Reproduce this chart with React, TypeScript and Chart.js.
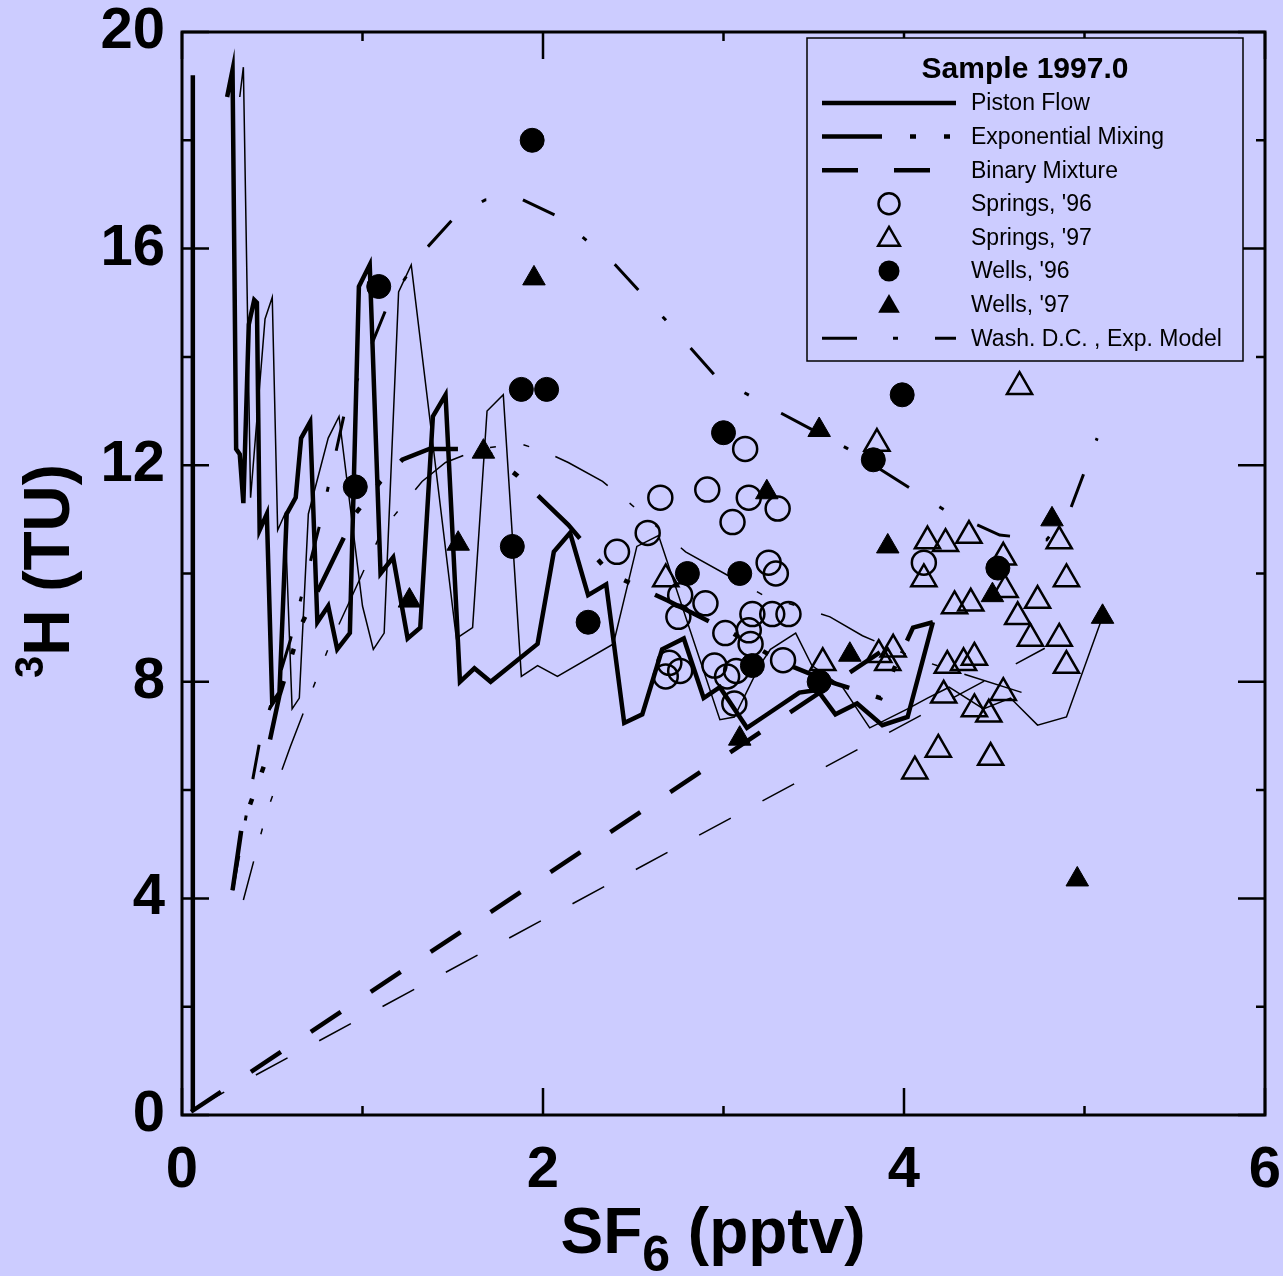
import React, { useEffect, useRef } from 'react';
import { Chart, registerables } from 'chart.js';

Chart.register(...registerables);

const FONT = '"Liberation Sans", Arial, Helvetica, sans-serif';
const BG = '#ccccff';

// ---- axes ----
const xMajorTicks = [0, 2, 4, 6];
const xMinorTicks = [1, 3, 5];
const yMajorTicks = [0, 4, 8, 12, 16, 20];
const yMinorTicks = [2, 6, 10, 14, 18];

// ---- model curves (SF6 pptv, 3H TU) ----
const pistonStem: [number, number][] = [[0.06, 0.1], [0.06, 19.2]];

const pistonFlow97: [number, number][] = [
  [0.25, 18.8], [0.28, 19.3], [0.30, 12.3], [0.32, 12.2], [0.34, 11.3], [0.37, 14.6], [0.40, 15.05],
  [0.415, 15.0], [0.43, 10.8], [0.47, 11.1], [0.50, 7.6], [0.54, 7.8], [0.58, 11.1], [0.63, 11.4],
  [0.66, 12.5], [0.71, 12.8], [0.75, 9.1], [0.81, 9.4], [0.86, 8.6], [0.93, 8.9], [0.98, 15.3],
  [1.04, 15.7], [1.10, 10.0], [1.17, 10.3], [1.25, 8.8], [1.32, 9.0], [1.39, 12.9], [1.46, 13.3],
  [1.54, 8.0], [1.62, 8.25], [1.71, 8.0], [1.97, 8.7], [2.06, 10.4], [2.15, 10.75], [2.25, 9.6],
  [2.35, 9.8], [2.45, 7.24], [2.55, 7.4], [2.66, 8.6], [2.78, 8.8], [2.89, 7.7], [2.98, 7.9],
  [3.13, 7.15], [3.22, 7.35], [3.42, 7.8], [3.52, 7.85], [3.62, 7.4], [3.74, 7.6], [3.88, 7.2],
  [4.02, 7.35], [4.16, 9.1],
];

const pistonFlowThin: [number, number][] = [
  [0.32, 18.8], [0.34, 19.35], [0.38, 11.4], [0.46, 14.7], [0.50, 15.1], [0.53, 10.8], [0.57, 11.1],
  [0.61, 7.5], [0.65, 7.7], [0.70, 11.1], [0.81, 12.5], [0.87, 12.9], [1.00, 9.4], [1.06, 8.6],
  [1.12, 8.9], [1.20, 15.2], [1.27, 15.7], [1.52, 8.8], [1.61, 9.0], [1.69, 13.0], [1.78, 13.3],
  [1.88, 8.1], [1.97, 8.3], [2.08, 8.1], [2.39, 8.7], [2.52, 10.5], [2.64, 10.7], [2.98, 7.3],
  [3.06, 7.35], [3.20, 8.3], [3.26, 8.6], [3.40, 8.9], [3.49, 8.3], [3.66, 7.9], [3.81, 7.15],
  [4.02, 7.5], [4.13, 7.7], [4.25, 7.9], [4.44, 7.5], [4.59, 7.7], [4.74, 7.2], [4.90, 7.35],
  [5.10, 9.2],
];

const expMixing97: [number, number][] = [
  [0.28, 4.15], [0.33, 5.3], [0.46, 6.5], [0.54, 7.75], [0.66, 9.05], [0.80, 10.0], [0.96, 11.1],
  [1.10, 11.7], [1.22, 12.1], [1.37, 12.3], [1.54, 12.3], [1.71, 12.2], [1.86, 11.8], [2.14, 10.9],
  [2.37, 10.0], [2.69, 9.5], [3.05, 8.9], [3.33, 8.35], [3.59, 8.0], [3.87, 7.7], [4.05, 9.0],
  [4.16, 9.1],
];

const expMixingThin: [number, number][] = [
  [0.34, 3.97], [0.47, 5.6], [0.60, 6.8], [0.82, 8.7], [1.11, 10.8], [1.33, 11.7], [1.46, 12.05],
  [1.65, 12.3], [1.87, 12.4], [2.01, 12.25], [2.14, 12.05], [2.33, 11.7], [2.48, 11.3], [2.79, 10.4],
  [3.22, 9.6], [3.59, 9.2], [3.77, 8.85], [4.09, 8.4], [4.75, 7.7],
];

const binaryMixture97: [number, number][] = [[0.05, 0.06], [3.87, 8.55]];
const binaryMixtureThin: [number, number][] = [[0.0, 0.0], [4.78, 8.62]];

const washDCExp: [number, number][] = [
  [0.28, 4.15], [0.43, 6.89], [0.60, 8.77], [0.77, 10.99], [0.90, 12.96], [0.97, 13.57], [1.14, 14.96],
  [1.32, 15.88], [1.51, 16.58], [1.68, 16.90], [1.87, 16.93], [2.09, 16.58], [2.40, 15.70],
  [2.68, 14.68], [2.96, 13.63], [3.32, 12.96], [3.68, 12.32], [4.23, 11.16], [4.53, 10.71],
  [4.79, 10.62], [4.92, 11.17], [5.07, 12.50],
];

// ---- samples ----
const springs96: [number, number][] = [
  [3.12, 12.3], [2.65, 11.4], [2.91, 11.55], [3.14, 11.4], [3.30, 11.2], [3.05, 10.95], [2.41, 10.4],
  [2.58, 10.75], [3.25, 10.2], [3.29, 10.0], [2.76, 9.6], [2.90, 9.45], [2.75, 9.2], [3.01, 8.9],
  [3.16, 9.25], [3.27, 9.25], [3.36, 9.25], [3.14, 8.95], [3.15, 8.7], [3.33, 8.4], [2.68, 8.1],
  [2.70, 8.35], [2.76, 8.2], [2.95, 8.3], [3.02, 8.1], [3.07, 8.2], [3.06, 7.6], [4.11, 10.2],
];

const springs97: [number, number][] = [
  [4.64, 13.45], [3.85, 12.4], [4.13, 10.6], [4.23, 10.55], [4.36, 10.7], [4.55, 10.3], [4.86, 10.6],
  [4.11, 9.9], [4.56, 9.7], [4.90, 9.9], [4.28, 9.4], [4.37, 9.45], [4.74, 9.5], [4.63, 9.2],
  [4.70, 8.8], [4.86, 8.8], [4.90, 8.3], [3.55, 8.35], [3.86, 8.5], [3.94, 8.6], [3.91, 8.35],
  [4.24, 8.3], [4.33, 8.35], [4.39, 8.45], [4.22, 7.75], [4.55, 7.8], [4.39, 7.5], [4.47, 7.4],
  [4.19, 6.75], [4.48, 6.6], [4.06, 6.35], [2.68, 9.9],
];

const wells96: [number, number][] = [
  [1.94, 18.0], [1.09, 15.3], [1.88, 13.4], [2.02, 13.4], [3.99, 13.3], [3.00, 12.6], [3.83, 12.1],
  [0.96, 11.6], [1.83, 10.5], [2.80, 10.0], [3.09, 10.0], [4.52, 10.1], [2.25, 9.1], [3.16, 8.3],
  [3.53, 8.0],
];

const wells97: [number, number][] = [
  [1.95, 15.45], [3.53, 12.65], [1.67, 12.25], [3.24, 11.5], [4.82, 11.0], [3.91, 10.5], [1.53, 10.55],
  [1.26, 9.5], [4.49, 9.6], [5.10, 9.2], [3.70, 8.5], [3.09, 6.95], [4.96, 4.35],
];

const legendTitle = 'Sample 1997.0';
const legendLabels = [
  'Piston Flow', 'Exponential Mixing', 'Binary Mixture', "Springs, '96", "Springs, '97",
  "Wells, '96", "Wells, '97", 'Wash. D.C. , Exp. Model',
];

const EXP_DASH = [60, 28, 6, 28, 6, 28];
const BIN_DASH = [36, 36];
const WASH_DASH = [35, 36, 5, 37];

const toXY = (pts: [number, number][]) => pts.map(([x, y]) => ({ x, y }));

function lineDs(label: string, pts: [number, number][], width: number, dash: number[], dashOffset = 0) {
  return {
    label,
    data: toXY(pts),
    showLine: true,
    borderColor: '#000',
    borderWidth: width,
    borderDash: dash,
    borderDashOffset: dashOffset,
    borderCapStyle: 'butt',
    borderJoinStyle: 'miter',
    pointRadius: 0,
    pointHoverRadius: 0,
    fill: false,
    tension: 0,
    order: 10,
  };
}

function markDs(label: string, pts: [number, number][], style: string, r: number, filled: boolean) {
  return {
    label,
    data: toXY(pts),
    showLine: false,
    pointStyle: style,
    pointRadius: r,
    pointHoverRadius: r,
    pointBorderWidth: filled ? 1 : 2.5,
    pointBorderColor: '#000',
    pointBackgroundColor: filled ? '#000' : 'rgba(0,0,0,0)',
    order: 1,
  };
}

const zeroPad = (s: any) => {
  s.paddingTop = 0;
  s.paddingBottom = 0;
  s.paddingLeft = 0;
  s.paddingRight = 0;
};

const decorPlugin = {
  id: 'decor',
  beforeDraw(chart: any) {
    const { ctx, width, height } = chart;
    ctx.save();
    ctx.fillStyle = BG;
    ctx.fillRect(0, 0, width, height);
    ctx.restore();
  },
  afterDraw(chart: any) {
    const { ctx, chartArea: a, scales } = chart;
    const xs = scales.x;
    const ys = scales.y;
    ctx.save();
    ctx.strokeStyle = '#000';
    ctx.lineCap = 'butt';
    // ticks
    ctx.lineWidth = 2.5;
    const MAJ = 27;
    const MIN = 9;
    ctx.beginPath();
    xMajorTicks.forEach((v) => {
      const p = xs.getPixelForValue(v);
      ctx.moveTo(p, a.bottom); ctx.lineTo(p, a.bottom - MAJ);
      ctx.moveTo(p, a.top); ctx.lineTo(p, a.top + MAJ);
    });
    xMinorTicks.forEach((v) => {
      const p = xs.getPixelForValue(v);
      ctx.moveTo(p, a.bottom); ctx.lineTo(p, a.bottom - MIN);
      ctx.moveTo(p, a.top); ctx.lineTo(p, a.top + MIN);
    });
    yMajorTicks.forEach((v) => {
      const p = ys.getPixelForValue(v);
      ctx.moveTo(a.left, p); ctx.lineTo(a.left + MAJ, p);
      ctx.moveTo(a.right, p); ctx.lineTo(a.right - MAJ, p);
    });
    yMinorTicks.forEach((v) => {
      const p = ys.getPixelForValue(v);
      ctx.moveTo(a.left, p); ctx.lineTo(a.left + MIN, p);
      ctx.moveTo(a.right, p); ctx.lineTo(a.right - MIN, p);
    });
    ctx.stroke();
    // frame
    ctx.lineWidth = 3;
    ctx.strokeRect(a.left, a.top, a.right - a.left, a.bottom - a.top);

    // legend
    const bx = a.right - 458;
    const by = a.top + 6;
    const bw = 436;
    const bh = 323;
    ctx.fillStyle = BG;
    ctx.fillRect(bx, by, bw, bh);
    ctx.lineWidth = 1.5;
    ctx.strokeRect(bx, by, bw, bh);
    ctx.fillStyle = '#000';
    ctx.textBaseline = 'middle';
    ctx.textAlign = 'center';
    ctx.font = `bold 30px ${FONT}`;
    ctx.fillText(legendTitle, bx + 218, by + 32);
    ctx.textAlign = 'left';
    ctx.font = `23px ${FONT}`;
    const lx0 = bx + 15;
    const lx1 = bx + 149;
    const mx = bx + 82;
    const tx = bx + 164;
    legendLabels.forEach((lab, i) => {
      const yy = by + 65 + i * 33.6;
      ctx.fillStyle = '#000';
      ctx.fillText(lab, tx, yy + 1);
      if (i <= 2 || i === 7) {
        ctx.save();
        ctx.lineWidth = i === 7 ? 3 : 4.5;
        ctx.setLineDash(i === 0 ? [] : i === 1 ? EXP_DASH : i === 2 ? BIN_DASH : WASH_DASH);
        ctx.beginPath();
        ctx.moveTo(lx0, yy);
        ctx.lineTo(lx1, yy);
        ctx.stroke();
        ctx.restore();
      } else {
        ctx.save();
        ctx.lineWidth = 2.5;
        ctx.beginPath();
        if (i === 3 || i === 5) {
          ctx.arc(mx, yy, 10.5, 0, Math.PI * 2);
        } else {
          const r = 12.5;
          for (let k = 0; k < 3; k++) {
            const ang = (k * 2 * Math.PI) / 3;
            const px = mx + Math.sin(ang) * r;
            const py = yy + 2 - Math.cos(ang) * r;
            if (k === 0) ctx.moveTo(px, py); else ctx.lineTo(px, py);
          }
          ctx.closePath();
        }
        if (i === 5 || i === 6) { ctx.fill(); }
        else ctx.stroke();
        ctx.restore();
      }
    });

    // axis titles
    ctx.fillStyle = '#000';
    ctx.textBaseline = 'alphabetic';
    ctx.textAlign = 'left';
    const mainF = `bold 64px ${FONT}`;
    const subF = `bold 50px ${FONT}`;
    // x title: SF6 (pptv)
    ctx.font = mainF;
    const wSF = ctx.measureText('SF').width;
    const wRest = ctx.measureText(' (pptv)').width;
    ctx.font = subF;
    const w6 = ctx.measureText('6').width;
    const totalX = wSF + w6 + wRest;
    let xx = 713 - totalX / 2;
    const base = 1253;
    ctx.font = mainF;
    ctx.fillText('SF', xx, base);
    xx += wSF;
    ctx.font = subF;
    ctx.fillText('6', xx, base + 18);
    xx += w6;
    ctx.font = mainF;
    ctx.fillText(' (pptv)', xx, base);

    // y title: 3H (TU)
    ctx.save();
    ctx.translate(69, 571);
    ctx.rotate(-Math.PI / 2);
    const supF = `bold 40px ${FONT}`;
    ctx.font = supF;
    const w3 = ctx.measureText('3').width;
    ctx.font = mainF;
    const wH = ctx.measureText('H (TU)').width;
    const x0 = -(w3 + wH) / 2;
    ctx.font = supF;
    ctx.fillText('3', x0, -26);
    ctx.font = mainF;
    ctx.fillText('H (TU)', x0 + w3, 0);
    ctx.restore();

    ctx.restore();
  },
};

export default function App() {
  const ref = useRef<HTMLCanvasElement | null>(null);
  useEffect(() => {
    if (!ref.current) return;
    const datasets: any[] = [
      markDs("Wells, '96", wells96, 'circle', 12, true),
      markDs("Wells, '97", wells97, 'triangle', 13, true),
      markDs("Springs, '96", springs96, 'circle', 12, false),
      markDs("Springs, '97", springs97, 'triangle', 14.5, false),
      lineDs('Piston Flow', pistonFlow97, 4.5, []),
      lineDs('Piston Flow stem', pistonStem, 4.5, []),
      lineDs('Piston Flow (thin)', pistonFlowThin, 1.5, []),
      lineDs('Exponential Mixing', expMixing97, 4.5, EXP_DASH),
      lineDs('Exponential Mixing (thin)', expMixingThin, 1.5, EXP_DASH, 20),
      lineDs('Binary Mixture', binaryMixture97, 4.5, BIN_DASH),
      lineDs('Binary Mixture (thin)', binaryMixtureThin, 1.5, BIN_DASH, 60),
      lineDs('Wash. D.C. , Exp. Model', washDCExp, 3, WASH_DASH),
    ];
    const chart = new Chart(ref.current, {
      type: 'scatter',
      data: { datasets },
      options: {
        animation: false,
        responsive: false,
        maintainAspectRatio: false,
        events: [],
        layout: { padding: { left: 0, top: 32, right: 18, bottom: 0 } },
        plugins: { legend: { display: false }, tooltip: { enabled: false }, title: { display: false } },
        scales: {
          x: {
            type: 'linear',
            min: 0,
            max: 6,
            afterBuildTicks: (s: any) => { s.ticks = xMajorTicks.map((v) => ({ value: v })); },
            ticks: {
              font: { family: FONT, size: 58, weight: 'bold' },
              color: '#000',
              padding: 21,
              maxRotation: 0,
              autoSkip: false,
              callback: (v: any) => String(v),
            },
            grid: { display: false, drawTicks: false },
            border: { display: false },
            afterFit: (s: any) => { s.height = 161; zeroPad(s); },
          },
          y: {
            type: 'linear',
            min: 0,
            max: 20,
            afterBuildTicks: (s: any) => { s.ticks = yMajorTicks.map((v) => ({ value: v })); },
            ticks: {
              font: { family: FONT, size: 58, weight: 'bold' },
              color: '#000',
              padding: 17,
              autoSkip: false,
              callback: (v: any) => String(v),
            },
            grid: { display: false, drawTicks: false },
            border: { display: false },
            afterFit: (s: any) => { s.width = 182; zeroPad(s); },
          },
        },
      } as any,
      plugins: [decorPlugin],
    });
    return () => chart.destroy();
  }, []);
  return (
    <div style={{ position: 'absolute', left: 0, top: 0, width: 1283, height: 1276, background: BG }}>
      <canvas ref={ref} width={1283} height={1276} style={{ display: 'block', width: 1283, height: 1276 }} />
    </div>
  );
}
